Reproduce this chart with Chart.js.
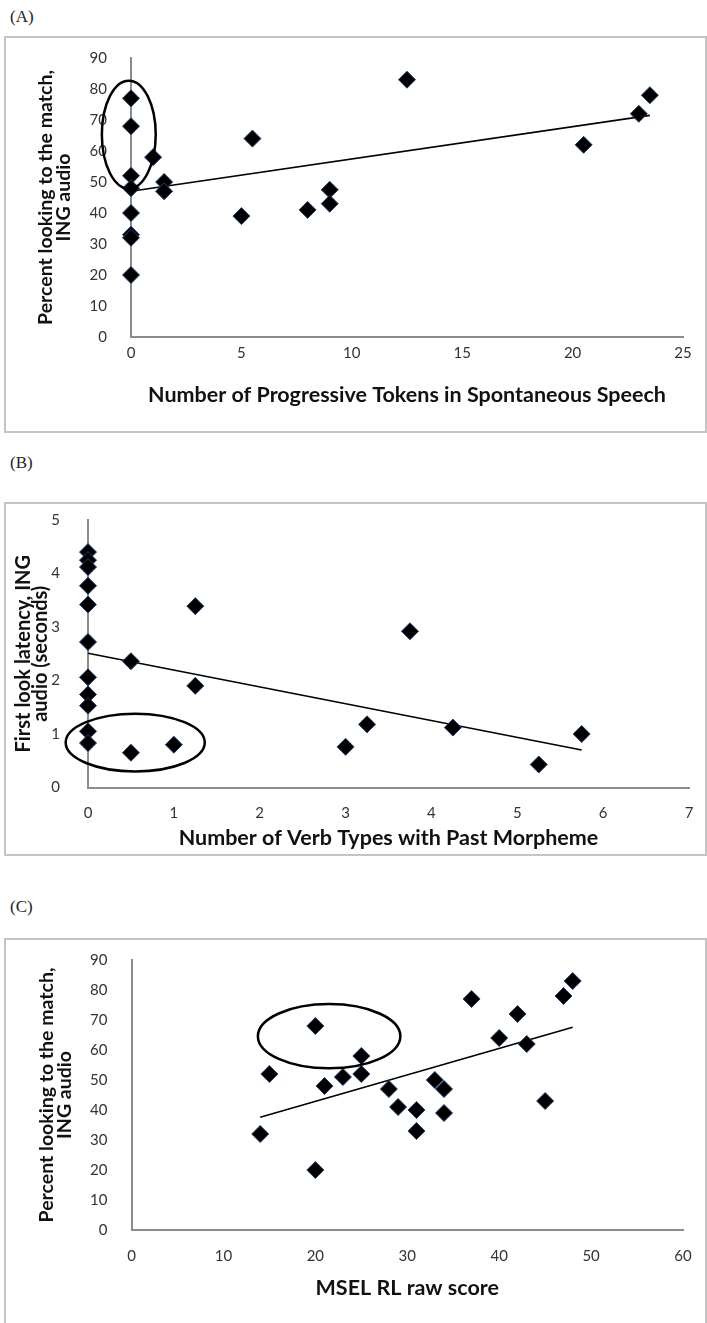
<!DOCTYPE html>
<html>
<head>
<meta charset="utf-8">
<script src="https://cdn.jsdelivr.net/npm/chart.js@4.4.1/dist/chart.umd.min.js"></script>
<style>
body { margin: 0; background: #fff; width: 707px; height: 1323px; position: relative; overflow: hidden; }
.tag { position: absolute; left: 10px; font: 17px "Liberation Serif", serif; color: #222; }
.frame { position: absolute; left: 4px; width: 703px; border: 2px solid #c4c4c4; box-sizing: border-box; }
canvas { position: absolute; left: 5px; }
</style>
</head>
<body>
<div class="tag" style="top:7px">(A)</div>
<div class="frame" style="top:36px;height:397px"></div>
<canvas id="chartA" width="701" height="395" style="top:37px"></canvas>

<div class="tag" style="top:453px">(B)</div>
<div class="frame" style="top:502px;height:354px"></div>
<canvas id="chartB" width="701" height="352" style="top:503px"></canvas>

<div class="tag" style="top:897px">(C)</div>
<div class="frame" style="top:938px;height:400px"></div>
<canvas id="chartC" width="701" height="384" style="top:939px"></canvas>

<script>
// (A) progressive tokens vs. percent looking
const tokensA = [0, 0, 1, 0, 0, 1.5, 1.5, 0, 0, 0, 0, 5, 5.5, 8, 9, 9, 12.5, 20.5, 23, 23.5];
const lookingA = [77, 68, 58, 52, 48, 50, 47, 40, 33, 32, 20, 39, 64, 41, 47.5, 43, 83, 62, 72, 78];
const trendA = [[0, 47], [23.5, 71.5]];
const ringA = [-0.1, 65.3, 1.22, 17.4];
const xRangeA = [0, 25, 5];
const yRangeA = [0, 90, 10];

// (B) past verb types vs. first look latency
const verbsB = [0, 0, 0, 0, 0, 0, 0, 0, 0, 0, 0, 0.5, 0.5, 1, 1.25, 1.25, 3, 3.25, 3.75, 4.25, 5.25, 5.75];
const latencyB = [4.4, 4.25, 4.12, 3.77, 3.42, 2.72, 2.06, 1.74, 1.53, 1.05, 0.83, 2.36, 0.65, 0.8, 3.39, 1.9, 0.76, 1.18, 2.92, 1.12, 0.43, 1.0];
const trendB = [[0, 2.51], [5.75, 0.7]];
const ringB = [0.55, 0.84, 0.81, 0.54];
const xRangeB = [0, 7, 1];
const yRangeB = [0, 5, 1];

// (C) MSEL RL raw score vs. percent looking
const mselC = [14, 15, 20, 20, 21, 23, 25, 25, 28, 29, 31, 31, 33, 34, 34, 37, 40, 42, 43, 45, 47, 48];
const lookingC = [32, 52, 68, 20, 48, 51, 58, 52, 47, 41, 40, 33, 50, 47, 39, 77, 64, 72, 62, 43, 78, 83];
const trendC = [[14, 37.6], [48, 67.6]];
const ringC = [21.5, 64.6, 7.75, 10.7];
const xRangeC = [0, 60, 10];
const yRangeC = [0, 90, 10];

const ringPlugin = {
  id: 'ring',
  afterDatasetsDraw(chart, args, opts) {
    const [cx, cy, rx, ry] = opts.shape;
    const xs = chart.scales.x, ys = chart.scales.y;
    const px = xs.getPixelForValue(cx), py = ys.getPixelForValue(cy);
    const prx = Math.abs(xs.getPixelForValue(cx + rx) - px);
    const pry = Math.abs(ys.getPixelForValue(cy + ry) - py);
    const ctx = chart.ctx;
    ctx.save();
    ctx.beginPath();
    ctx.ellipse(px, py, prx, pry, 0, 0, Math.PI * 2);
    ctx.lineWidth = 2.5;
    ctx.strokeStyle = '#000';
    ctx.stroke();
    ctx.restore();
  }
};

const tickFont = { family: 'Lato', size: 15 };

function panel(id, xv, yv, trend, ring, xr, yr, xTitle, yTitle, L) {
  new Chart(document.getElementById(id), {
    type: 'scatter',
    data: {
      datasets: [{
        data: xv.map((x, i) => ({ x: x, y: yv[i] })),
        pointStyle: 'rectRot',
        pointRadius: 8.5,
        backgroundColor: '#000',
        borderColor: '#1f3d70',
        borderWidth: 1,
        clip: false
      }, {
        type: 'line',
        data: trend.map(p => ({ x: p[0], y: p[1] })),
        borderColor: '#000',
        borderWidth: 1.6,
        pointRadius: 0,
        fill: false,
        clip: false
      }]
    },
    options: {
      responsive: false,
      animation: false,
      events: [],
      layout: { padding: { top: L.top, right: L.right, left: 0, bottom: 0 } },
      plugins: {
        legend: { display: false },
        tooltip: { enabled: false },
        ring: { shape: ring }
      },
      scales: {
        x: {
          type: 'linear',
          min: xr[0], max: xr[1],
          // tick marks hidden; tickLength only pushes the labels away from the axis
          grid: { display: false, drawTicks: true, tickLength: L.xTickGap },
          border: { display: true, color: '#8c8c8c', width: 2 },
          ticks: { stepSize: xr[2], font: tickFont, color: '#333', padding: 0, maxRotation: 0 },
          title: { display: true, text: xTitle, font: { family: 'Lato', size: 21.5, weight: 'bold' }, color: '#111', padding: { top: 0, bottom: L.xTitlePad } },
          afterFit: s => { s.height = L.xH; }
        },
        y: {
          type: 'linear',
          min: yr[0], max: yr[1],
          grid: { display: false, drawTicks: true, tickLength: L.yTickGap },
          border: { display: true, color: '#8c8c8c', width: 2 },
          ticks: { stepSize: yr[2], font: tickFont, color: '#333', padding: 0 },
          title: { display: true, text: yTitle, font: { family: 'Lato', size: L.ySize, weight: 'bold', lineHeight: L.yLH + 'px' }, color: '#111', padding: { top: L.yTitlePad, bottom: 0 } },
          afterFit: s => { s.width = L.yW; }
        }
      }
    },
    plugins: [ringPlugin]
  });
}

panel('chartA', tokensA, lookingA, trendA, ringA, xRangeA, yRangeA,
  'Number of Progressive Tokens in Spontaneous Speech',
  ['Percent looking to the match,', 'ING audio'],
  { top: 21, right: 23, yW: 126, xH: 95, yTickGap: 24, xTickGap: 7, ySize: 19.5, yTitlePad: 31.5, yLH: 18, xTitlePad: 24 });

panel('chartB', verbsB, latencyB, trendB, ringB, xRangeB, yRangeB,
  'Number of Verb Types with Past Morpheme',
  ['First look latency, ING', 'audio (seconds)'],
  { top: 17, right: 17, yW: 83, xH: 67.5, yTickGap: 28, xTickGap: 16.5, ySize: 20, yTitlePad: 10.5, yLH: 17, xTitlePad: 4 });

panel('chartC', mselC, lookingC, trendC, ringC, xRangeC, yRangeC,
  'MSEL RL raw score',
  ['Percent looking to the match,', 'ING audio'],
  { top: 21, right: 23, yW: 126.5, xH: 93, yTickGap: 24, xTickGap: 17, ySize: 19.5, yTitlePad: 32.5, yLH: 18, xTitlePad: 22 });
</script>
</body>
</html>
